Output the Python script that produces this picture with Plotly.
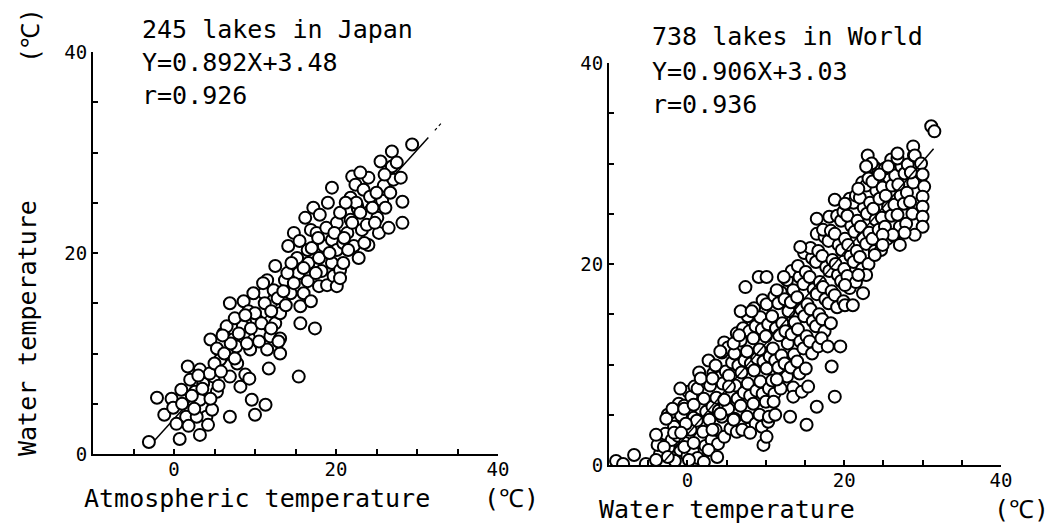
import plotly.graph_objects as go

W, H = 1057, 527

# ---------------- data ----------------
japan_title = "245 lakes in Japan"
japan_eq = "Y=0.892X+3.48"
japan_r = "r=0.926"
japan_slope, japan_icpt = 0.892, 3.48

world_title = "738 lakes in World"
world_eq = "Y=0.906X+3.03"
world_r = "r=0.936"
world_slope, world_icpt = 0.906, 3.03

japan_pts = [
    (-3.1, 1.2), (0.7, 1.5), (-2.1, 5.6), (-0.3, 5.5), (-1.2, 3.9), (-0.1, 4.6), (1.5, 3.7), (0.9, 6.4),
    (1.7, 8.7), (3.2, 8.4), (2.0, 7.4), (2.6, 6.2), (3.2, 5.4), (3.6, 7.0), (4.0, 3.7), (4.2, 2.9),
    (3.2, 1.9), (2.8, 3.7), (4.7, 4.4), (5.3, 6.2), (4.9, 7.7), (5.7, 9.4), (6.9, 7.7), (6.9, 3.7),
    (8.2, 6.7), (7.8, 9.0), (9.6, 5.4), (10.0, 3.9), (11.3, 4.9), (11.7, 8.5), (8.8, 7.9), (9.3, 7.5),
    (4.5, 11.4), (5.3, 10.5), (6.1, 12.0), (6.5, 12.7), (7.3, 11.4), (7.7, 10.7), (8.5, 12.7), (9.4, 10.4),
    (6.9, 15.0), (8.6, 15.2), (9.2, 14.2), (10.2, 13.4), (10.6, 12.0), (11.5, 10.4), (11.9, 11.7), (13.1, 10.0),
    (13.1, 11.5), (12.5, 13.0), (13.1, 14.0), (11.1, 16.0), (11.5, 17.3), (12.5, 18.7), (12.3, 16.3), (13.7, 17.3),
    (14.4, 16.0), (14.1, 20.7), (14.8, 22.0), (15.6, 14.7), (15.6, 13.0), (16.0, 16.0), (15.4, 18.0), (16.6, 19.0),
    (16.5, 20.3), (16.9, 22.3), (16.9, 15.2), (17.4, 12.5), (15.4, 7.7), (17.2, 24.5), (17.6, 22.0), (17.9, 16.7),
    (17.9, 19.5), (18.5, 20.7), (18.9, 16.8), (19.5, 26.5), (19.5, 21.3), (19.5, 19.0), (19.7, 17.7), (20.1, 16.7),
    (20.1, 20.3), (20.1, 23.0), (20.5, 18.3), (20.9, 19.0), (20.9, 21.0), (21.4, 22.0), (21.8, 23.3), (21.8, 25.5),
    (22.0, 27.6), (22.4, 26.8), (22.6, 24.7), (22.8, 19.5), (23.4, 26.3), (22.2, 20.7), (23.2, 22.3), (23.8, 22.8),
    (24.0, 20.8), (24.2, 25.6), (25.1, 23.5), (25.3, 22.0), (25.5, 29.1), (25.7, 25.2), (25.9, 26.7), (26.1, 24.5),
    (26.7, 26.0), (26.9, 30.1), (26.9, 28.6), (27.1, 27.3), (28.0, 27.5), (28.2, 25.1), (28.2, 23.0), (29.4, 30.8),
    (22.7, 24.4), (12.9, 11.2), (1.0, 5.0), (2.2, 5.8), (3.5, 6.5), (4.4, 8.0), (5.0, 9.0), (5.8, 8.2),
    (6.2, 10.0), (7.0, 11.0), (7.5, 9.5), (8.0, 12.0), (9.0, 11.0), (9.5, 12.5), (10.0, 14.0), (10.8, 13.0),
    (11.2, 15.0), (12.0, 14.2), (12.8, 15.5), (13.5, 16.2), (14.0, 18.0), (14.8, 17.0), (15.2, 19.5), (16.0, 18.5),
    (16.5, 17.2), (17.0, 20.5), (17.8, 21.5), (18.2, 18.2), (18.8, 22.5), (19.2, 20.0), (19.8, 22.0), (20.5, 24.0),
    (21.0, 21.5), (21.5, 20.3), (22.0, 23.0), (22.5, 25.0), (23.0, 24.0), (23.5, 21.0), (24.0, 27.5), (24.5, 24.5),
    (25.0, 26.0), (26.0, 27.8), (26.5, 22.5), (27.5, 29.0), (0.3, 3.0), (1.8, 2.8), (2.5, 4.5), (3.0, 7.8),
    (4.5, 5.5), (5.5, 6.8), (6.0, 11.8), (7.5, 13.5), (8.8, 13.8), (9.8, 16.0), (10.5, 11.2), (11.0, 17.0),
    (12.0, 12.5), (13.8, 14.8), (14.5, 19.0), (15.5, 21.2), (16.2, 23.5), (17.5, 18.0), (18.0, 23.8), (19.0, 25.0),
    (20.5, 17.5), (21.2, 25.0), (23.0, 28.0), (24.8, 23.0),
]

# sparse / edge points of the world cloud
world_edge_pts = [
    (-9.1, 0.4), (-8.2, 0.1), (-6.8, 1.0), (-5.3, 0.1), (-4.0, 0.5), (-3.8, 2.0), (-4.0, 3.0), (-3.0, 1.8),
    (-2.7, 4.6), (-1.9, 5.6), (-2.5, 0.8), (-1.7, 3.2), (-0.9, 7.6), (-0.4, 5.6), (-0.2, 4.1), (-0.8, 3.2),
    (-0.4, 1.8), (0.2, 0.5), (0.8, 2.2), (0.8, 6.0), (1.7, 8.6), (2.1, 0.3), (2.7, 1.5), (3.2, 3.5),
    (3.2, 8.6), (3.8, 0.8), (4.2, 5.1), (4.2, 11.3), (4.7, 6.5), (5.3, 7.8), (5.9, 4.5), (5.9, 12.1),
    (6.6, 12.9), (6.8, 15.3), (7.0, 3.5), (7.4, 17.7), (8.0, 3.2), (8.2, 15.3), (9.1, 18.7), (10.1, 18.7),
    (9.7, 2.0), (10.1, 2.8), (10.4, 4.8), (11.2, 5.0), (11.0, 6.3), (11.4, 8.5), (11.4, 17.4), (12.3, 18.7),
    (13.1, 4.8), (13.5, 6.8), (14.6, 7.3), (15.2, 4.0), (15.4, 7.8), (16.5, 5.8), (17.1, 12.6), (17.9, 11.8),
    (18.4, 9.8), (18.8, 6.8), (19.5, 11.8), (20.1, 15.9), (21.1, 15.9), (14.4, 21.7), (16.5, 24.5), (18.8, 26.4),
    (20.1, 26.0), (21.8, 27.5), (23.0, 30.8), (23.5, 30.0), (22.8, 29.7), (24.5, 28.9), (25.6, 29.7), (26.8, 31.0),
    (28.8, 31.7), (29.0, 30.8), (29.8, 30.0), (30.0, 28.9), (30.2, 27.7), (30.0, 26.7), (30.0, 25.7), (30.0, 24.7),
    (30.0, 23.7), (29.0, 22.9), (27.1, 21.9), (27.7, 23.1), (26.2, 22.9), (24.9, 22.9), (24.9, 21.9), (23.9, 20.9),
    (22.8, 18.9), (21.8, 18.9), (22.4, 17.1), (20.1, 17.9), (31.1, 33.7), (31.5, 33.2),
]

# dense body of the world cloud
world_body_pts = [
    (-3.5, 1.1), (-3.2, 2.4), (-2.4, 1.7), (-2.8, 3.1), (-2.5, 5.0), (-1.6, 0.4), (-2.0, 2.5), (-1.7, 3.8),
    (-1.9, 5.3), (-0.9, 1.5), (-1.2, 2.9), (-0.8, 4.9), (-1.1, 6.1), (0.0, 0.9), (-0.3, 2.2), (-0.1, 4.1),
    (-0.4, 5.9), (0.1, 7.3), (0.7, 1.4), (0.4, 3.5), (0.8, 4.7), (0.5, 6.8), (0.9, 7.8), (1.3, 0.7),
    (1.6, 2.7), (1.2, 4.4), (1.7, 5.6), (1.3, 7.6), (1.5, 9.2), (2.3, 1.9), (2.0, 3.3), (2.4, 5.3),
    (2.1, 6.6), (2.5, 8.2), (3.1, 2.5), (2.8, 4.5), (3.2, 5.8), (2.9, 7.9), (3.3, 9.1), (2.7, 10.4),
    (3.9, 2.1), (3.6, 3.5), (4.0, 5.4), (3.7, 6.7), (4.1, 8.7), (3.6, 9.9), (4.7, 2.8), (4.4, 4.8),
    (4.8, 6.0), (4.5, 8.1), (4.9, 9.3), (4.4, 11.2), (4.7, 12.2), (5.5, 3.6), (5.2, 5.6), (5.6, 6.9),
    (5.3, 8.9), (5.7, 10.2), (5.2, 11.7), (6.3, 3.3), (6.0, 4.6), (6.4, 6.6), (6.1, 7.9), (6.5, 9.9),
    (6.0, 11.1), (6.3, 13.1), (7.1, 3.9), (6.8, 5.9), (7.2, 7.2), (6.9, 9.2), (7.3, 10.4), (6.8, 12.4),
    (7.1, 13.6), (7.9, 3.6), (7.6, 4.8), (8.0, 6.9), (7.7, 8.1), (8.1, 10.1), (7.6, 11.3), (7.9, 13.3),
    (7.7, 14.8), (8.7, 4.1), (8.4, 6.1), (8.8, 7.4), (8.5, 9.4), (8.9, 10.6), (8.4, 12.6), (8.7, 13.8),
    (8.5, 15.6), (9.5, 3.8), (9.2, 5.0), (9.6, 7.1), (9.3, 8.3), (9.7, 10.3), (9.2, 11.5), (9.5, 13.5),
    (9.3, 14.7), (9.6, 16.4), (10.3, 4.3), (10.0, 6.3), (10.4, 7.6), (10.1, 9.6), (10.5, 10.8), (10.0, 12.8),
    (10.3, 14.0), (10.1, 16.0), (11.1, 7.1), (10.8, 8.4), (11.2, 10.4), (10.9, 11.6), (11.3, 13.6), (10.8, 14.8),
    (11.1, 16.8), (11.9, 7.6), (11.6, 9.7), (12.0, 10.9), (11.7, 12.9), (12.1, 14.1), (11.6, 16.1), (11.9, 17.2),
    (12.7, 8.8), (12.4, 10.1), (12.8, 12.1), (12.5, 13.3), (12.9, 15.3), (12.4, 16.5), (12.7, 18.4), (13.5, 7.7),
    (13.2, 9.7), (13.6, 11.0), (13.3, 13.0), (13.7, 14.2), (13.2, 16.2), (13.5, 17.4), (13.3, 19.3), (14.3, 9.1),
    (14.0, 10.3), (14.4, 12.3), (14.1, 13.5), (14.5, 15.5), (14.0, 16.7), (14.3, 18.7), (14.1, 19.8), (15.1, 9.6),
    (14.8, 11.6), (15.2, 12.8), (14.9, 14.8), (15.3, 16.0), (14.8, 18.0), (15.1, 19.2), (14.9, 21.1), (15.9, 11.1),
    (15.6, 12.3), (16.0, 14.3), (15.7, 15.5), (16.1, 17.5), (15.6, 18.7), (15.9, 20.6), (15.7, 21.6), (16.7, 11.8),
    (16.4, 13.8), (16.8, 15.0), (16.5, 17.0), (16.9, 18.2), (16.4, 20.2), (16.7, 21.3), (16.5, 23.0), (17.5, 13.3),
    (17.2, 14.5), (17.6, 16.5), (17.3, 17.7), (17.7, 19.7), (17.2, 20.8), (17.5, 22.7), (17.3, 23.4), (18.3, 14.1),
    (18.0, 16.1), (18.4, 17.3), (18.1, 19.3), (18.5, 20.4), (18.0, 22.3), (18.3, 23.3), (18.1, 24.7), (19.1, 15.7),
    (18.8, 16.9), (19.2, 18.9), (18.9, 20.0), (19.3, 21.9), (18.8, 23.0), (19.1, 24.8), (19.9, 16.3), (19.6, 18.3),
    (20.0, 19.5), (19.7, 21.4), (20.1, 22.5), (19.6, 24.3), (19.9, 25.2), (20.7, 17.6), (20.4, 18.8), (20.8, 20.8),
    (20.5, 21.9), (20.9, 23.8), (20.4, 24.8), (20.7, 26.5), (21.5, 18.2), (21.2, 20.2), (21.6, 21.3), (21.3, 23.2),
    (21.7, 24.3), (21.2, 26.1), (21.5, 26.8), (22.3, 19.5), (22.0, 20.7), (22.4, 22.6), (22.1, 23.7), (22.5, 25.6),
    (22.0, 26.6), (22.3, 28.1), (23.1, 20.0), (22.8, 22.0), (23.2, 23.1), (22.9, 25.0), (23.3, 26.1), (22.8, 27.8),
    (23.1, 28.5), (23.9, 21.3), (23.6, 22.5), (24.0, 24.4), (23.7, 25.5), (24.1, 27.3), (23.6, 28.2), (23.9, 29.6),
    (24.7, 21.4), (24.4, 23.4), (24.8, 24.6), (24.5, 26.5), (24.9, 27.6), (24.4, 29.3), (25.5, 22.5), (25.2, 23.7),
    (25.6, 25.7), (25.3, 26.8), (25.7, 28.6), (25.2, 29.5), (26.3, 22.8), (26.0, 24.8), (26.4, 25.9), (26.1, 27.8),
    (26.5, 28.8), (26.0, 30.4), (27.1, 23.7), (26.8, 24.9), (27.2, 26.8), (26.9, 27.9), (27.3, 29.7), (26.8, 30.5),
    (27.9, 24.0), (27.6, 26.0), (28.0, 27.1), (27.7, 29.0), (28.1, 29.9), (28.7, 25.0), (28.4, 26.2), (28.8, 28.1),
    (28.5, 29.1), (28.9, 30.8),
]

japan_x = [p[0] for p in japan_pts]
japan_y = [p[1] for p in japan_pts]
world_pts = world_body_pts + world_edge_pts
world_x = [p[0] for p in world_pts]
world_y = [p[1] for p in world_pts]

japan_fit_x = [-2.6, 31.4]
world_fit_x = [-3.0, 31.4]

# ---------------- figure ----------------
FONT = "DejaVu Sans Mono"
BLACK = "#000000"


def px(x):
    return x / W


def py(y):
    return 1 - y / H


fig = go.Figure()

marker = dict(symbol="circle", size=12, color="white", line=dict(color=BLACK, width=2))

# Japan
fig.add_trace(go.Scatter(
    x=japan_fit_x, y=[japan_slope * v + japan_icpt for v in japan_fit_x],
    mode="lines", line=dict(color=BLACK, width=1.5), xaxis="x", yaxis="y", showlegend=False))
fig.add_trace(go.Scatter(
    x=japan_x, y=japan_y, mode="markers", marker=marker, xaxis="x", yaxis="y", showlegend=False))
fig.add_trace(go.Scatter(
    x=[32.2, 33.0], y=[japan_slope * 32.2 + japan_icpt, japan_slope * 33.0 + japan_icpt],
    mode="lines", line=dict(color=BLACK, width=1.2, dash="dot"), xaxis="x", yaxis="y", showlegend=False))

# World
fig.add_trace(go.Scatter(
    x=world_x, y=world_y, mode="markers", marker=marker, xaxis="x2", yaxis="y2", showlegend=False))
fig.add_trace(go.Scatter(
    x=world_fit_x, y=[world_slope * v + world_icpt for v in world_fit_x],
    mode="lines", line=dict(color=BLACK, width=1.5), xaxis="x2", yaxis="y2", showlegend=False))

xticks = [-5, 0, 5, 10, 15, 20, 25, 30, 35, 40]
xtext = ["", "0", "", "", "", "20", "", "", "", "40"]
yticks = [0, 5, 10, 15, 20, 25, 30, 35, 40]
ytext = ["0", "", "", "", "20", "", "", "", "40"]

axis_common = dict(
    showline=True, linecolor=BLACK, linewidth=2, ticks="inside", ticklen=5, tickwidth=1.5,
    tickcolor=BLACK, showgrid=False, zeroline=False, automargin=False,
    tickfont=dict(family=FONT, size=19, color=BLACK),
)

fig.update_layout(
    width=W, height=H,
    margin=dict(l=0, r=0, t=0, b=0, autoexpand=False),
    paper_bgcolor="white", plot_bgcolor="white",
    xaxis=dict(domain=[px(93), px(498)], range=[-10, 40], tickvals=xticks, ticktext=xtext,
               anchor="y", ticklabelstandoff=-3, **axis_common),
    yaxis=dict(domain=[py(454), py(52)], range=[0, 40], tickvals=yticks, ticktext=ytext,
               anchor="x", **axis_common),
    xaxis2=dict(domain=[px(609), px(1001)], range=[-10, 40], tickvals=xticks, ticktext=xtext,
                anchor="y2", ticklabelstandoff=-3, **axis_common),
    yaxis2=dict(domain=[py(465), py(63)], range=[0, 40], tickvals=yticks, ticktext=ytext,
                anchor="x2", **axis_common),
)


def ann(text, x, y, xanchor="left", yanchor="middle", angle=0, size=25):
    fig.add_annotation(text=text, x=px(x), y=py(y), xref="paper", yref="paper",
                       xanchor=xanchor, yanchor=yanchor, textangle=angle, showarrow=False,
                       font=dict(family=FONT, size=size, color=BLACK))


# left panel texts
ann(japan_title, 140, 29)
ann(japan_eq, 140, 63)
ann(japan_r, 140, 95)
ann("Water temperature", 27, 328, xanchor="center", angle=-90)
ann("(℃)", 30, 36, xanchor="center", angle=-90)
ann("Atmospheric temperature", 82, 498)
ann("(℃)", 482, 498)

# right panel texts
ann(world_title, 650, 36)
ann(world_eq, 650, 72)
ann(world_r, 650, 104)
ann("Water temperature", 597, 509)
ann("(℃)", 992, 509)

fig.write_html("out.html")
